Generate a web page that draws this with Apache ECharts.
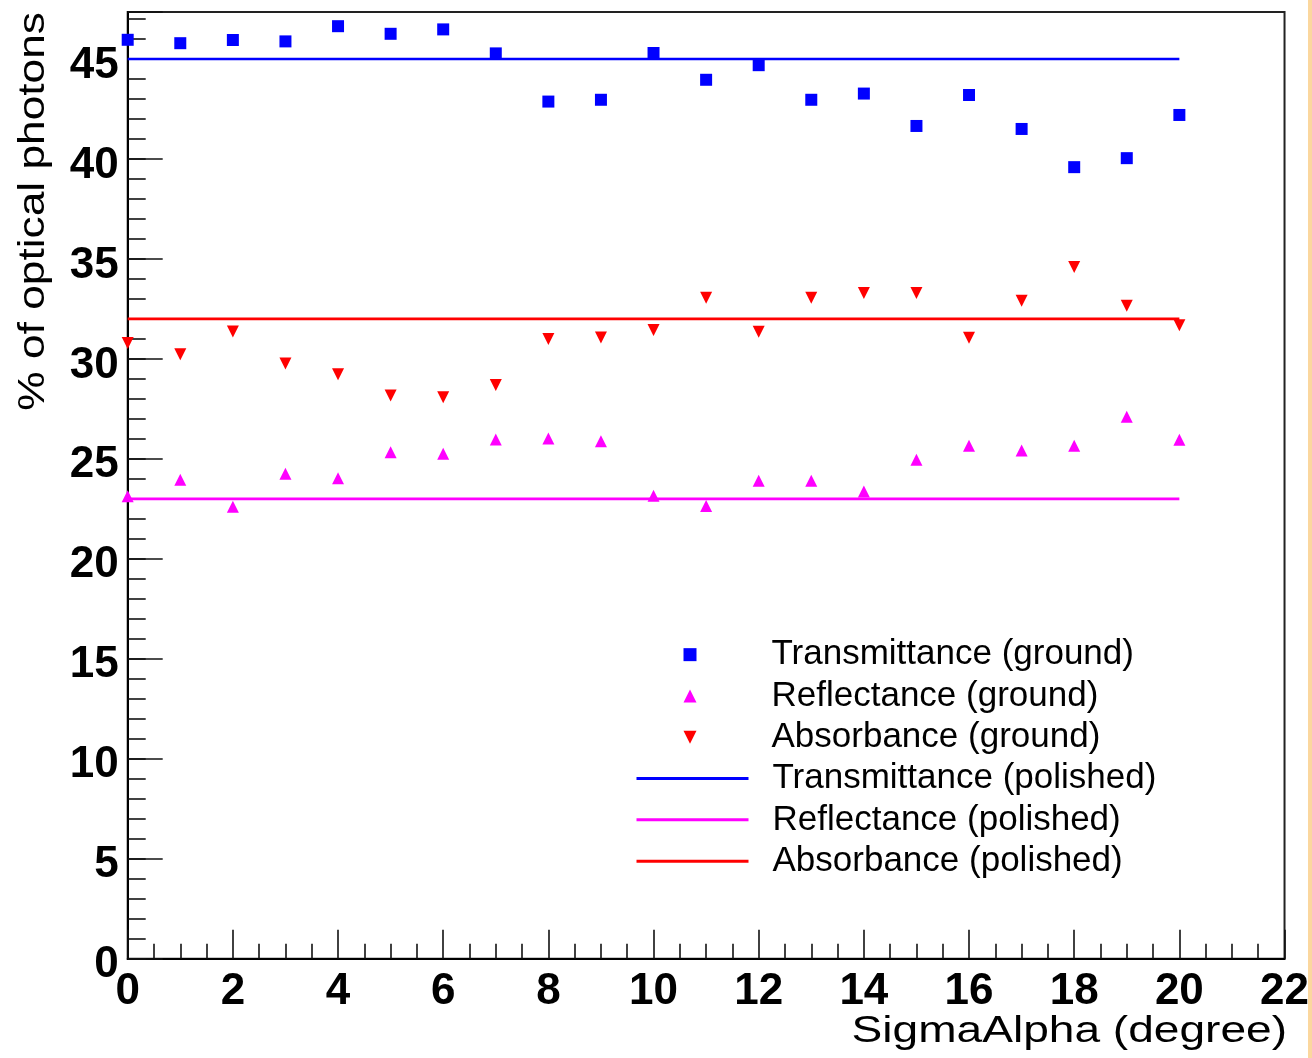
<!DOCTYPE html>
<html>
<head>
<meta charset="utf-8">
<script src="https://cdn.jsdelivr.net/npm/echarts@6/dist/echarts.min.js"></script>
<style>
  html, body { margin: 0; padding: 0; background: #ffffff; }
  #chart { width: 1312px; height: 1058px; }
</style>
</head>
<body>
<div id="chart"></div>
<script>
// ---- data ----
const sigmaAlpha = [0, 1, 2, 3, 4, 5, 6, 7, 8, 9, 10, 11, 12, 13, 14, 15, 16, 17, 18, 19, 20];
const transmittanceGround = [45.96, 45.79, 45.95, 45.88, 46.64, 46.26, 46.48, 45.28, 42.87, 42.96, 45.30, 43.96, 44.69, 42.96, 43.27, 41.65, 43.20, 41.50, 39.59, 40.04, 42.20];
const reflectanceGround   = [23.13, 23.95, 22.60, 24.25, 24.03, 25.33, 25.25, 25.97, 26.02, 25.88, 23.15, 22.64, 23.90, 23.90, 23.37, 24.96, 25.65, 25.42, 25.65, 27.10, 25.96];
const absorbanceGround    = [30.80, 30.23, 31.37, 29.77, 29.23, 28.17, 28.08, 28.70, 31.00, 31.07, 31.45, 33.06, 31.36, 33.06, 33.29, 33.29, 31.06, 32.91, 34.60, 32.66, 31.68];
const polishedX = [0, 20];
const transmittancePolished = [45, 45];
const reflectancePolished   = [23, 23];
const absorbancePolished    = [32, 32];
const xTickLabels = [0, 2, 4, 6, 8, 10, 12, 14, 16, 18, 20, 22];
const yTickLabels = [0, 5, 10, 15, 20, 25, 30, 35, 40, 45];
const groundNames = ['Transmittance (ground)', 'Reflectance (ground)', 'Absorbance (ground)'];
const polishedNames = ['Transmittance (polished)', 'Reflectance (polished)', 'Absorbance (polished)'];
const xTitle = 'SigmaAlpha (degree)';
const yTitle = '% of optical photons';

const BLUE = '#0000ff', MAGENTA = '#ff00ff', RED = '#ff0000';
const FONT = '"Liberation Sans", Arial, Helvetica, sans-serif';
const DOWN_TRIANGLE = 'path://M0,0 L2,0 L1,2 Z';

const pairs = (xs, ys) => xs.map((x, i) => [x, ys[i]]);

const chart = echarts.init(document.getElementById('chart'), null, { renderer: 'canvas' });

const yMax = 47.35;
const tickColor = '#111';
const legendTop = 634;
const legendRow = 41.3;

const option = {
  backgroundColor: '#ffffff',
  animation: false,
  grid: {
    left: 127.7, right: 26.3, top: 12, bottom: 99.3,
    show: true, borderColor: '#222', borderWidth: 2, backgroundColor: 'transparent'
  },
  xAxis: [{
    type: 'value', min: 0, max: 22, interval: 2,
    axisLine: { show: true, onZero: false, lineStyle: { color: '#000', width: 2 } },
    axisTick: { show: true, inside: true, length: 29, lineStyle: { color: tickColor, width: 1.6 } },
    minorTick: { show: true, splitNumber: 4, length: 15, lineStyle: { color: tickColor, width: 1.6 } },
    axisLabel: {
      show: true, margin: 11, color: '#000', fontFamily: FONT, fontWeight: 'bold', fontSize: 44,
      formatter: v => (xTickLabels.indexOf(Math.round(v * 1000) / 1000) >= 0 ? String(v) : '')
    },
    splitLine: { show: false }, minorSplitLine: { show: false }
  }],
  yAxis: [{
    type: 'value', min: 0, max: yMax, interval: 1, position: 'left',
    axisLine: { show: true, onZero: false, lineStyle: { color: '#000', width: 2 } },
    axisTick: { show: true, inside: true, length: 18, lineStyle: { color: tickColor, width: 1.6 } },
    axisLabel: {
      show: true, margin: 9, color: '#000',
      showMaxLabel: false,
      formatter: v => {
        const r = Math.round(v * 1000) / 1000;
        return yTickLabels.indexOf(r) >= 0 ? '{s| }\n{v|' + r + '}' : '';
      },
      rich: {
        s: { fontSize: 2, lineHeight: 13, fontFamily: FONT },
        v: { fontSize: 44, lineHeight: 44, fontWeight: 'bold', fontFamily: FONT, color: '#000' }
      }
    },
    splitLine: { show: false }
  }, {
    type: 'value', min: 0, max: yMax, interval: 5, position: 'left', offset: 0,
    axisLine: { show: false },
    axisTick: { show: true, inside: true, length: 35, lineStyle: { color: tickColor, width: 1.6 } },
    axisLabel: { show: false },
    splitLine: { show: false }
  }],
  legend: [{
    orient: 'vertical', left: 683.5, top: legendTop, padding: 0,
    itemWidth: 13, itemHeight: 13, itemGap: 0, symbolKeepAspect: true,
    textStyle: { fontSize: 35, fontFamily: FONT, color: '#000', lineHeight: legendRow, padding: [0, 0, 0, 70] },
    data: [
      { name: groundNames[0] },
      { name: groundNames[1] },
      { name: groundNames[2], icon: DOWN_TRIANGLE }
    ]
  }, {
    orient: 'vertical', left: 635, top: legendTop + 3 * legendRow, padding: 0,
    itemWidth: 112, itemHeight: 13, itemGap: 0,
    lineStyle: { width: 3 },
    textStyle: { fontSize: 35, fontFamily: FONT, color: '#000', lineHeight: legendRow, padding: [0, 0, 0, 19] },
    data: polishedNames.map(n => ({ name: n, itemStyle: { opacity: 0 } }))
  }],
  graphic: [
    {
      type: 'text', x: 1287, y: 1032, scaleX: 1.28, silent: true,
      style: { text: xTitle, font: '36px ' + FONT, fill: '#000', align: 'right', verticalAlign: 'middle' }
    },
    {
      type: 'text', x: 34, y: 12, rotation: Math.PI / 2, scaleX: 1.23, silent: true,
      style: { text: yTitle, font: '36px ' + FONT, fill: '#000', align: 'right', verticalAlign: 'middle' }
    },
    {
      type: 'rect', shape: { x: 1308, y: 0, width: 4, height: 1058 }, silent: true,
      style: { fill: '#fbd79e' }
    }
  ],
  series: [
    {
      name: polishedNames[0], type: 'line', data: pairs(polishedX, transmittancePolished),
      symbol: 'none', showSymbol: false, lineStyle: { color: BLUE, width: 2.6 }, itemStyle: { color: BLUE }, z: 2
    },
    {
      name: polishedNames[1], type: 'line', data: pairs(polishedX, reflectancePolished),
      symbol: 'none', showSymbol: false, lineStyle: { color: MAGENTA, width: 2.6 }, itemStyle: { color: MAGENTA }, z: 2
    },
    {
      name: polishedNames[2], type: 'line', data: pairs(polishedX, absorbancePolished),
      symbol: 'none', showSymbol: false, lineStyle: { color: RED, width: 2.6 }, itemStyle: { color: RED }, z: 2
    },
    {
      name: groundNames[0], type: 'scatter', data: pairs(sigmaAlpha, transmittanceGround),
      symbol: 'rect', symbolSize: 12, symbolKeepAspect: true, itemStyle: { color: BLUE, opacity: 1 }, z: 3
    },
    {
      name: groundNames[1], type: 'scatter', data: pairs(sigmaAlpha, reflectanceGround),
      symbol: 'triangle', symbolSize: 12, symbolKeepAspect: true, itemStyle: { color: MAGENTA, opacity: 1 }, z: 3
    },
    {
      name: groundNames[2], type: 'scatter', data: pairs(sigmaAlpha, absorbanceGround),
      symbol: 'triangle', symbolRotate: 180, symbolSize: 12, symbolKeepAspect: true, itemStyle: { color: RED, opacity: 1 }, z: 3
    }
  ]
};

chart.setOption(option);
</script>
</body>
</html>
